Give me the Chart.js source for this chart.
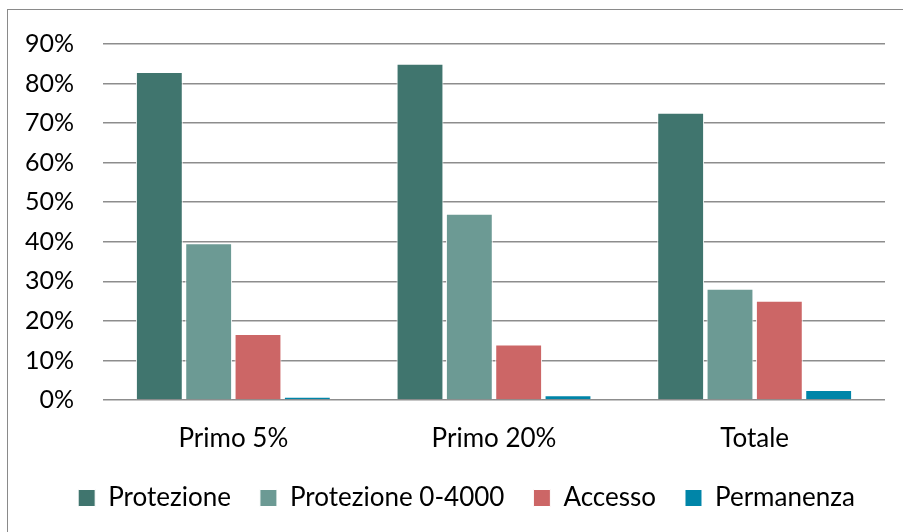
<!DOCTYPE html>
<html>
<head>
<meta charset="utf-8">
<script src="https://cdn.jsdelivr.net/npm/chart.js@4"></script>
<style>
  html, body { margin: 0; padding: 0; background: #fff; overflow: hidden; }
  #wrap { position: relative; width: 903px; height: 532px; }
  #frame { position: absolute; left: 7px; top: 9px; width: 1000px; height: 1000px;
           border: 1.5px solid #8a8a8a; box-sizing: border-box; }
  #chart { position: absolute; left: 0; top: 0; }
</style>
</head>
<body>
<div id="wrap">
  <div id="frame"></div>
  <canvas id="chart" width="903" height="532"></canvas>
</div>
<script>
// dati (valori in %)
const categorie = ['Primo 5%', 'Primo 20%', 'Totale'];
const protezione = [82.9, 85.0, 72.6];
const protezione04000 = [39.6, 47.1, 28.1];
const accesso = [16.7, 14.0, 25.1];
const permanenza = [0.8, 1.2, 2.5];
const tickY = [0, 10, 20, 30, 40, 50, 60, 70, 80, 90];

const FONT = 'Lato, "Open Sans", sans-serif';

function serie(label, data, colore) {
  return {
    label: label,
    data: data,
    backgroundColor: colore,
    borderColor: '#ffffff',
    borderWidth: 1,
    categoryPercentage: 0.757,
    barPercentage: 0.95
  };
}

// la legenda dell'originale e' un po' spostata a destra
const spostaLegenda = {
  id: 'spostaLegenda',
  afterLayout(chart) {
    chart.legend.left += 24;
    chart.legend.right += 24;
  }
};

new Chart(document.getElementById('chart').getContext('2d'), {
  type: 'bar',
  data: {
    labels: categorie,
    datasets: [
      serie('Protezione', protezione, '#40756e'),
      serie('Protezione 0-4000', protezione04000, '#6c9a94'),
      serie('Accesso', accesso, '#cc6666'),
      serie('Permanenza', permanenza, '#0085a8')
    ]
  },
  plugins: [spostaLegenda],
  options: {
    responsive: false,
    animation: false,
    layout: { padding: { top: 41, right: 18, bottom: 11, left: 0 } },
    plugins: {
      tooltip: { enabled: false },
      legend: {
        position: 'bottom',
        labels: {
          boxWidth: 17,
          boxHeight: 17,
          padding: 29,
          color: '#000',
          font: { family: FONT, size: 26 }
        }
      }
    },
    scales: {
      x: {
        grid: { display: false },
        border: { display: false },
        ticks: { color: '#000', padding: 15, font: { family: FONT, size: 26 } },
        afterFit: (s) => { s.height = 56; }
      },
      y: {
        min: 0,
        max: 90,
        afterBuildTicks: (s) => { s.ticks = tickY.map(v => ({ value: v })); },
        grid: { color: '#8d8d8d', lineWidth: 1.5, drawTicks: false },
        border: { display: false },
        ticks: {
          color: '#000',
          padding: 29,
          font: { family: FONT, size: 25 },
          callback: (v) => v + '%'
        },
        afterFit: (s) => { s.width = 103; }
      }
    }
  }
});
</script>
</body>
</html>
